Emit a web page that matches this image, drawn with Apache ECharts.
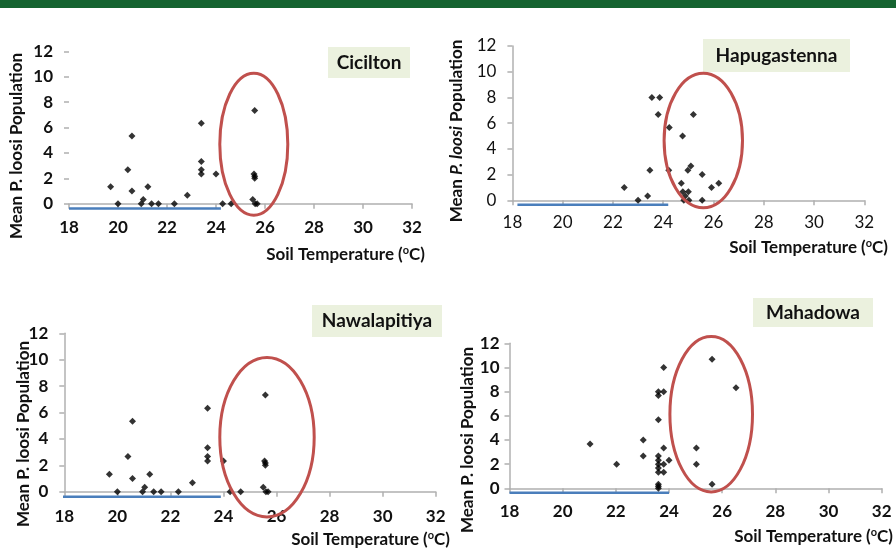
<!DOCTYPE html>
<html><head><meta charset="utf-8">
<script src="https://cdn.jsdelivr.net/npm/echarts@6/dist/echarts.min.js"></script>
<style>html,body{margin:0;padding:0;background:#fff}#c{width:896px;height:550px}</style>
</head><body><div id="c"></div>
<script>
// ---- data ----
const panelTitles = ['Cicilton', 'Hapugastenna', 'Nawalapitiya', 'Mahadowa'];
const xTickValues = [18, 20, 22, 24, 26, 28, 30, 32];
const yTickValues = [0, 2, 4, 6, 8, 10, 12];

const ciciltonPoints = [
  [19.7,1.33],[20.0,0],[20.4,2.67],[20.57,5.33],[20.57,1.0],[20.95,0],[21.03,0.33],[21.22,1.33],
  [21.37,0],[21.65,0],[22.3,0],[22.83,0.67],[23.4,6.33],[23.4,3.33],[23.4,2.67],[23.4,2.33],
  [24.0,2.33],[24.27,0],[24.62,0],[25.58,7.33],[25.55,2.33],[25.58,2.17],[25.58,2.0],[25.5,0.33],
  [25.6,0],[25.68,0]
];
const hapugastennaPoints = [
  [22.45,1.0],[23.0,0],[23.38,0.33],[23.47,2.33],[23.55,8.0],[23.86,8.0],[23.8,6.67],[24.24,5.67],
  [24.22,2.33],[24.77,5.0],[24.72,1.33],[24.78,0.67],[24.88,0.33],[24.82,0],[25.0,0.67],[25.02,0],
  [24.98,2.33],[25.1,2.67],[25.2,6.67],[25.55,2.0],[25.55,0],[25.92,1.0],[26.21,1.33]
];
const nawalapitiyaPoints = [
  [19.7,1.33],[20.0,0],[20.4,2.67],[20.57,5.33],[20.57,1.0],[20.95,0],[21.03,0.33],[21.22,1.33],
  [21.37,0],[21.65,0],[22.3,0],[22.83,0.67],[23.4,6.33],[23.4,3.33],[23.4,2.67],[23.4,2.33],
  [24.0,2.33],[24.25,0],[24.65,0],[25.58,7.33],[25.55,2.33],[25.58,2.17],[25.58,2.0],[25.5,0.33],
  [25.6,0],[25.68,0]
];
const mahadowaPoints = [
  [21.03,3.67],[22.03,2.0],[23.03,4.0],[23.03,2.67],[23.6,5.67],[23.6,8.0],[23.6,7.67],[23.6,2.67],
  [23.6,2.33],[23.6,2.0],[23.6,1.67],[23.6,1.33],[23.6,0.33],[23.6,0.17],[23.6,0],[23.8,10.0],
  [23.8,8.0],[23.8,3.33],[23.8,2.0],[23.8,1.33],[24.0,2.33],[25.03,3.33],[25.03,2.0],[25.62,10.67],
  [26.52,8.33],[25.62,0.33]
];
const ciciltonBaseline = [[18.0,-0.38],[24.2,-0.38]];
const hapugastennaBaseline = [[18.2,-0.34],[24.2,-0.34]];
const nawalapitiyaBaseline = [[17.9,-0.38],[23.9,-0.38]];
const mahadowaBaseline = [[18.0,-0.36],[24.0,-0.36]];

// ---- layout / style ----
const FONT = 'Lato, "Open Sans", sans-serif';
const panels = [
  {pts: ciciltonPoints, base: ciciltonBaseline, grid:{left:69, top:51.3, width:343, height:152.4}, bold:true, yLine:false, xMargin:15, yMargin:16},
  {pts: hapugastennaPoints, base: hapugastennaBaseline, grid:{left:512.4, top:46, width:351.9, height:154.3}, bold:false, yLine:true, xMargin:14, yMargin:16},
  {pts: nawalapitiyaPoints, base: nawalapitiyaBaseline, grid:{left:64.3, top:333.3, width:371.4, height:158.4}, bold:true, yLine:true, xMargin:16, yMargin:16},
  {pts: mahadowaPoints, base: mahadowaBaseline, grid:{left:509.5, top:343.3, width:372.2, height:145}, bold:true, yLine:true, xMargin:15, yMargin:10}
];

const grids = [], xAxes = [], yAxes = [], series = [];
panels.forEach((p, i) => {
  grids.push(Object.assign({containLabel:false}, p.grid));
  const axisLine = {show:true, lineStyle:{color:'#b0b0b0', width:1.5}};
  const label = {color:'#111', fontFamily:FONT, fontSize:17, fontWeight: p.bold ? 'bold' : 'normal'};
  xAxes.push({
    type:'value', gridIndex:i, min:xTickValues[0], max:xTickValues[xTickValues.length-1], interval:2,
    axisLine, axisTick:{show:true, length:5, lineStyle:{color:'#b0b0b0', width:1.5}},
    axisLabel:Object.assign({margin:p.xMargin}, label), splitLine:{show:false}
  });
  yAxes.push({
    type:'value', gridIndex:i, min:yTickValues[0], max:yTickValues[yTickValues.length-1], interval:2,
    axisLine:{show:p.yLine, lineStyle:{color:'#b0b0b0', width:1.5}},
    axisTick:{show:true, length:5, lineStyle:{color:'#b0b0b0', width:1.5}},
    axisLabel:Object.assign({margin:p.yMargin}, label), splitLine:{show:false}
  });
  series.push({
    type:'line', xAxisIndex:i, yAxisIndex:i, data:p.base, showSymbol:false, symbol:'none', clip:false,
    lineStyle:{color:'#4a7ebb', width:2.5}, z:1, silent:true
  });
  series.push({
    type:'scatter', xAxisIndex:i, yAxisIndex:i, data:p.pts, symbol:'diamond', symbolSize:7,
    itemStyle:{color:'#000'}, z:3
  });
});

function titleBox(x, y, w, h, text) {
  return [
    {type:'rect', shape:{x, y, width:w, height:h}, style:{fill:'#ebf1de'}, z:5},
    {type:'text', x:x + w/2, y:y + h/2, z:6,
     style:{text, fill:'#111', font:'bold 19px ' + FONT, align:'center', verticalAlign:'middle'}}
  ];
}
function ellipse(cx, cy, rx, ry) {
  return {type:'ellipse', shape:{cx, cy, rx, ry}, style:{fill:'none', stroke:'#c0504d', lineWidth:3}, z:10};
}
function yName(x, y, italic) {
  return {type:'text', x, y, rotation:Math.PI/2, z:6,
    style:{
      text:'{b|Mean }{' + (italic ? 'i' : 'b') + '|P. loosi}{b| Population}',
      align:'center', verticalAlign:'middle',
      rich:{
        b:{fontFamily:FONT, fontSize:17, fontWeight:'bold', fill:'#111'},
        i:{fontFamily:FONT, fontSize:17, fontWeight:'bold', fontStyle:'italic', fill:'#111'}
      }
    }};
}
function xName(right, y) {
  return {type:'text', x:right, y, z:6,
    style:{
      text:'{b|Soil Temperature (}{s|o}{b|C)}',
      align:'right', verticalAlign:'middle',
      rich:{
        b:{fontFamily:FONT, fontSize:17, fontWeight:'bold', fill:'#111', lineHeight:20},
        s:{fontFamily:FONT, fontSize:11, fontWeight:'bold', fill:'#111', verticalAlign:'top', lineHeight:13}
      }
    }};
}

const graphic = [
  {type:'rect', shape:{x:0, y:0, width:896, height:8}, style:{fill:'#156330'}, z:5},
  ...titleBox(328, 47, 82, 31, panelTitles[0]),
  ...titleBox(703, 39, 147, 33, panelTitles[1]),
  ...titleBox(312, 305, 130, 32, panelTitles[2]),
  ...titleBox(753, 298, 120, 29, panelTitles[3]),
  ellipse(253.8, 144.2, 34, 71),
  ellipse(703.3, 140.5, 39.2, 67.3),
  ellipse(267, 437.2, 47.2, 79.7),
  ellipse(711.2, 414.2, 41.3, 77.7),
  yName(17, 146, false),
  yName(457, 131, true),
  yName(24, 434, false),
  yName(468, 440, false),
  xName(425, 255),
  xName(888, 248),
  xName(450, 540),
  xName(893, 537)
];

const chart = echarts.init(document.getElementById('c'), null, {renderer:'canvas'});
chart.setOption({
  animation:false,
  backgroundColor:'#fff',
  grid:grids, xAxis:xAxes, yAxis:yAxes, series, graphic
});
</script>
</body></html>
